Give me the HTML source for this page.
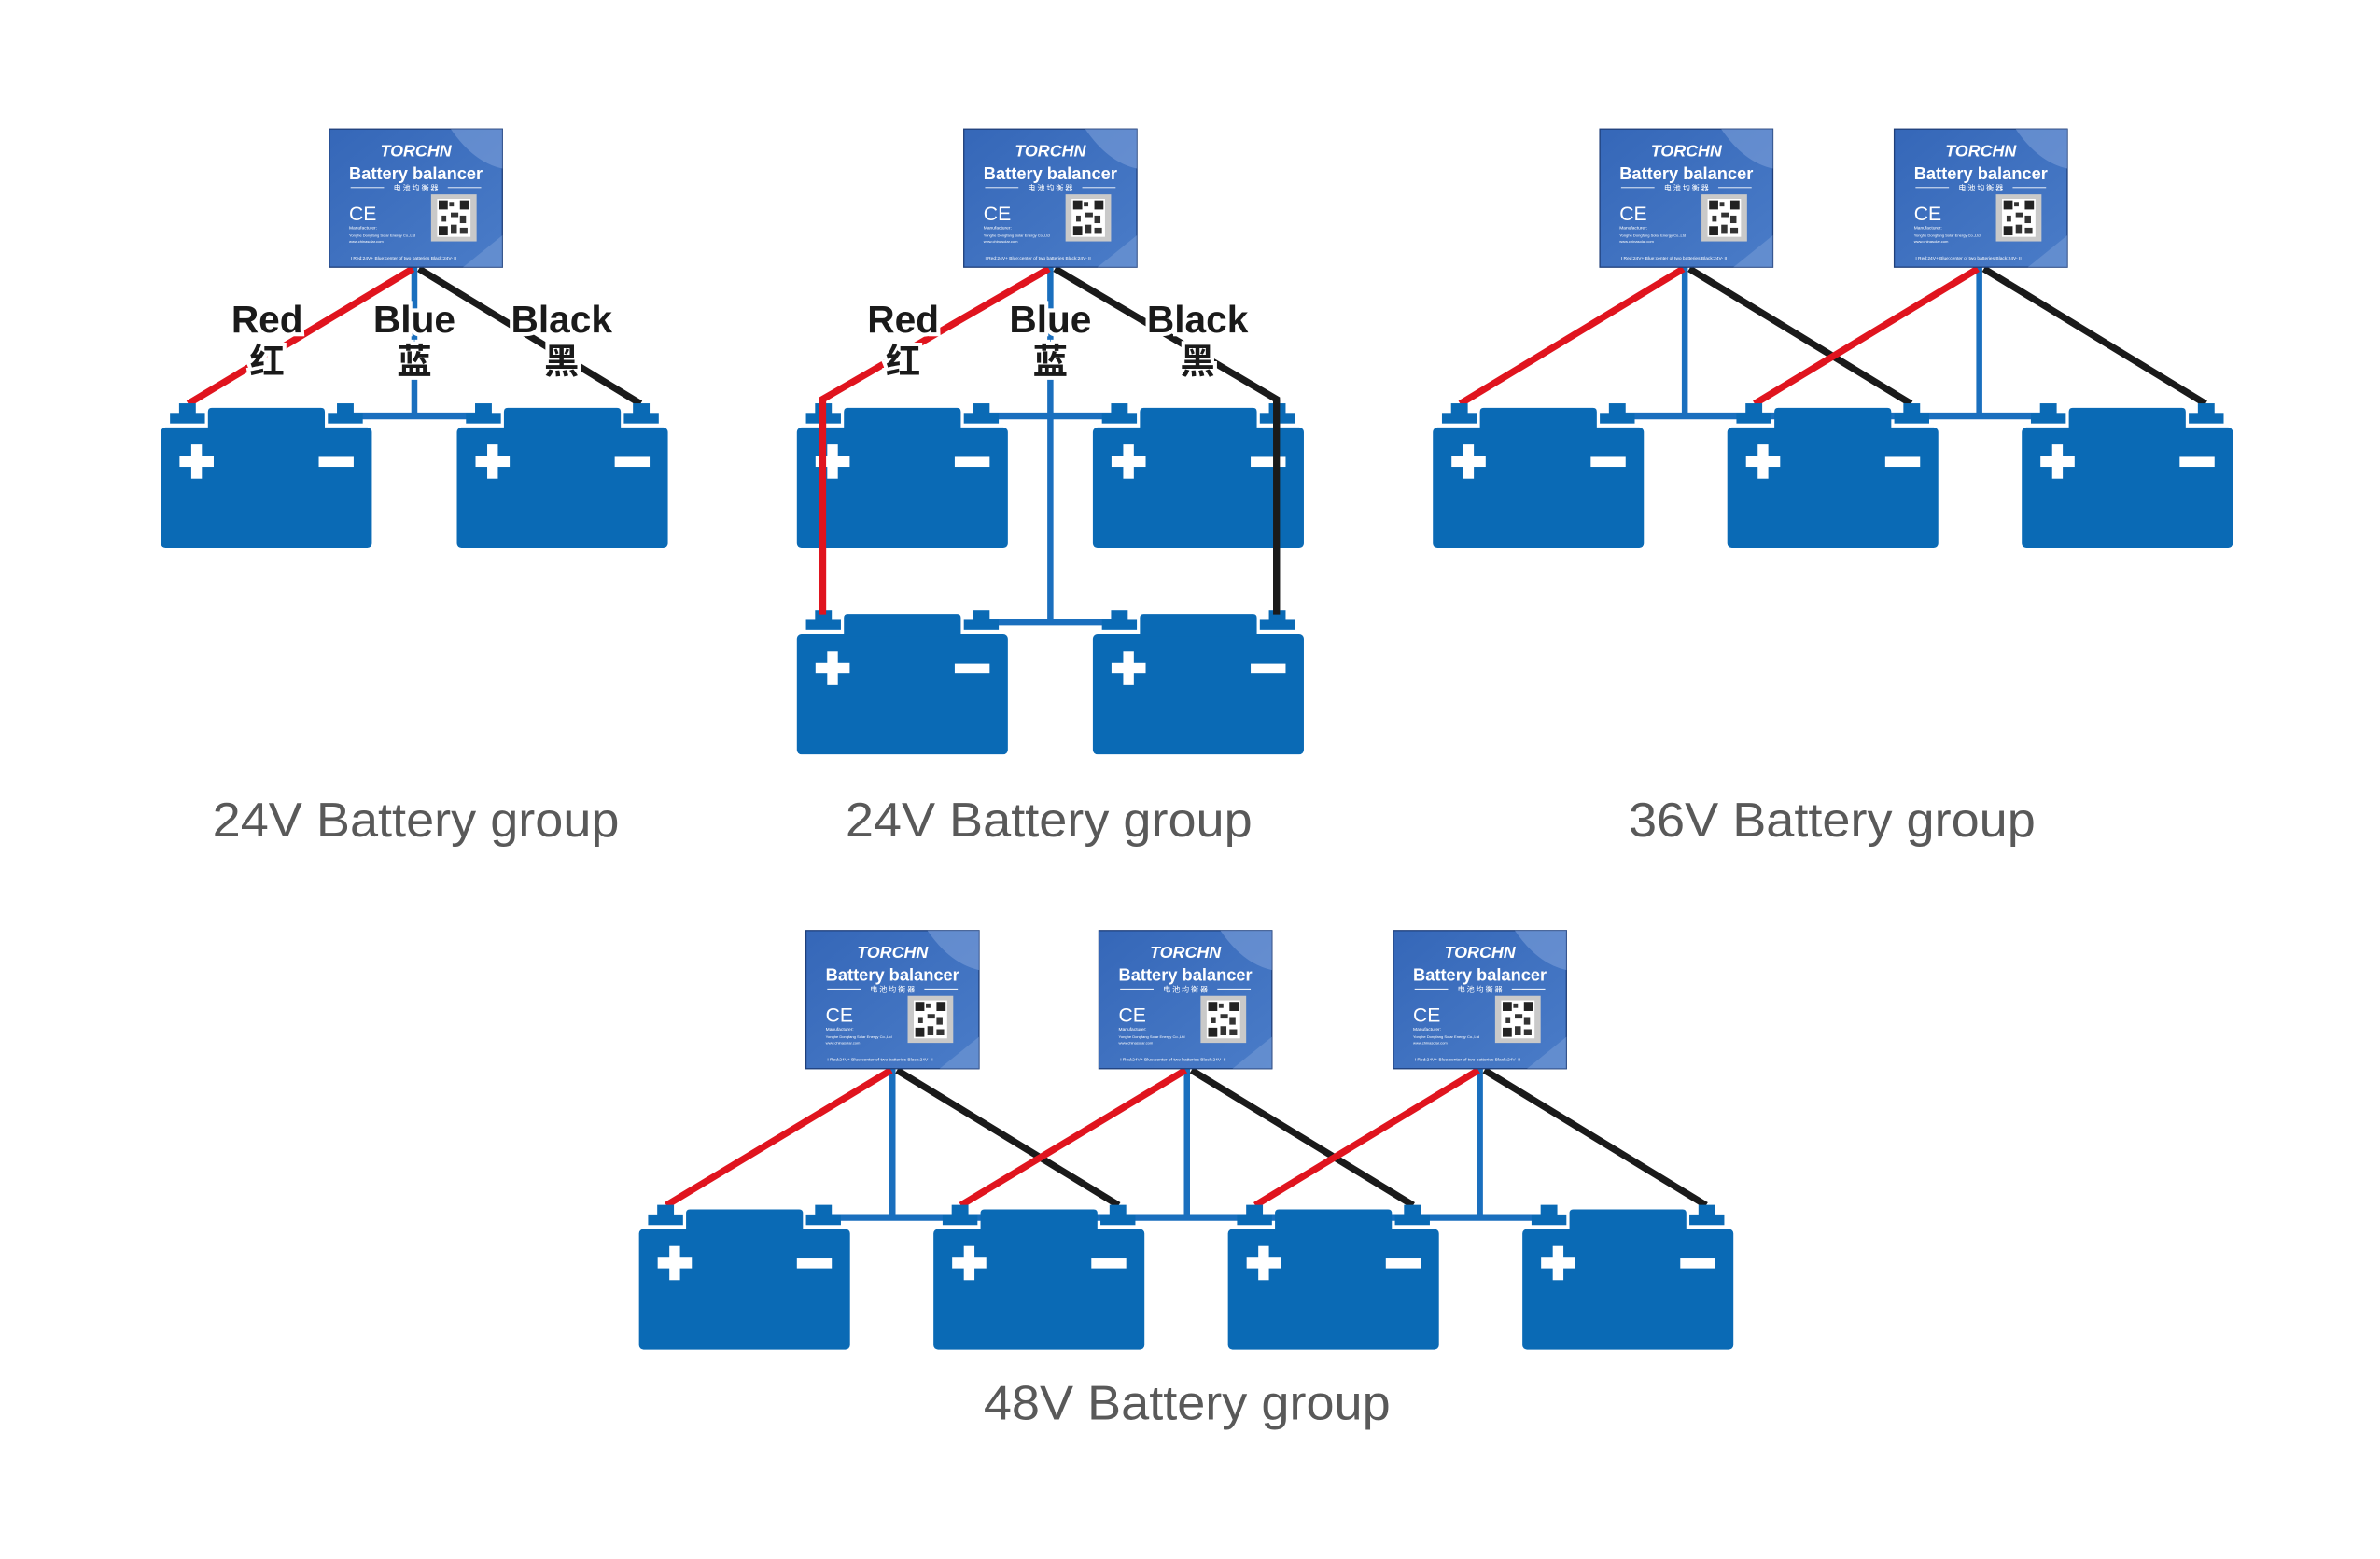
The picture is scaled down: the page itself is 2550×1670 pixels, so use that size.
<!DOCTYPE html>
<html><head><meta charset="utf-8"><style>
html,body{margin:0;padding:0;background:#fff;}
svg{display:block;}
.lbl{font-family:"Liberation Sans","Noto Sans CJK SC",sans-serif;font-weight:bold;font-size:25px;fill:#1a1a1a;text-anchor:middle;stroke:#fff;stroke-width:5px;paint-order:stroke;}
.cn{font-family:"Noto Sans CJK SC","WenQuanYi Zen Hei",sans-serif;font-weight:bold;font-size:23px;fill:#1a1a1a;text-anchor:middle;stroke:#fff;stroke-width:5px;paint-order:stroke;}
.cap{font-family:"Liberation Sans",sans-serif;font-size:32px;fill:#595959;text-anchor:middle;}
.bw{font-family:"Liberation Sans",sans-serif;fill:#fff;}
</style></head><body>
<svg width="2550" height="1670" viewBox="0 0 1568 1027" preserveAspectRatio="none" xmlns="http://www.w3.org/2000/svg">
<defs>
<linearGradient id="bg" x1="0" y1="0" x2="1" y2="1">
<stop offset="0" stop-color="#3567b8"/><stop offset="1" stop-color="#4a7cc8"/>
</linearGradient>
<g id="bat">
<rect x="0" y="16.6" width="139" height="79.4" rx="3" fill="#0a6ab5"/>
<path d="M31 18 V6.2 Q31 3.7 33.5 3.7 H105.5 Q108 3.7 108 6.2 V18 Z" fill="#0a6ab5"/>
<rect x="6" y="7" width="23" height="7" fill="#0a6ab5"/>
<rect x="12" y="0.7" width="11" height="7" fill="#0a6ab5"/>
<rect x="110" y="7" width="23" height="7" fill="#0a6ab5"/>
<rect x="116" y="0.7" width="11" height="7" fill="#0a6ab5"/>
<rect x="12.3" y="35.5" width="22.5" height="7" fill="#fff"/>
<rect x="20" y="27.8" width="7" height="22.5" fill="#fff"/>
<rect x="104" y="36" width="23" height="6.5" fill="#fff"/>
</g>
<g id="qr">
<rect x="67" y="43" width="30" height="31" fill="#c9c9c9"/>
<rect x="71" y="46" width="22" height="25" fill="#fff"/>
<rect x="72" y="47" width="6" height="6" fill="#222"/><rect x="86" y="47" width="6" height="6" fill="#222"/><rect x="72" y="64" width="6" height="6" fill="#222"/>
<rect x="79" y="48" width="3" height="3" fill="#333"/><rect x="80" y="55" width="5" height="3" fill="#333"/><rect x="74" y="57" width="3" height="4" fill="#333"/><rect x="86" y="57" width="4" height="5" fill="#333"/><rect x="80" y="63" width="4" height="6" fill="#333"/><rect x="86" y="65" width="5" height="4" fill="#333"/>
</g>
</defs>
<rect width="1568" height="1027" fill="#fff"/>

<!-- GROUP 1 -->
<g stroke-linecap="butt" fill="none">
<line x1="273" y1="176" x2="273" y2="276" stroke="#1a6fbe" stroke-width="4"/>
<line x1="227" y1="274" x2="320" y2="274" stroke="#1a6fbe" stroke-width="4.5"/>
<line x1="272" y1="177" x2="124" y2="266" stroke="#e0141e" stroke-width="4.5"/>
<line x1="276" y1="177" x2="422" y2="266" stroke="#1a1a1a" stroke-width="4.5"/>
</g>
<use href="#bat" x="106" y="265"/><use href="#bat" x="301" y="265"/>

<!-- GROUP 2 -->
<g fill="none">
<line x1="692" y1="176" x2="692" y2="412" stroke="#1a6fbe" stroke-width="4"/>
<line x1="646" y1="274" x2="740" y2="274" stroke="#1a6fbe" stroke-width="4.5"/>
<line x1="646" y1="410" x2="740" y2="410" stroke="#1a6fbe" stroke-width="4.5"/>
<polyline points="691,177 542,263 542,405" stroke="#e0141e" stroke-width="4.5"/>
<polyline points="695,177 841,263 841,405" stroke="#1a1a1a" stroke-width="4.5"/>
</g>
<use href="#bat" x="525" y="265"/><use href="#bat" x="720" y="265"/>
<use href="#bat" x="525" y="401"/><use href="#bat" x="720" y="401"/>
<g fill="none">
<line x1="542" y1="263" x2="542" y2="405" stroke="#e0141e" stroke-width="4.5"/>
<line x1="841" y1="263" x2="841" y2="405" stroke="#1a1a1a" stroke-width="4.5"/>
</g>

<!-- GROUP 3 -->
<g fill="none">
<line x1="1110" y1="176" x2="1110" y2="276" stroke="#1a6fbe" stroke-width="4"/>
<line x1="1304" y1="176" x2="1304" y2="276" stroke="#1a6fbe" stroke-width="4"/>
<line x1="1065" y1="274" x2="1352" y2="274" stroke="#1a6fbe" stroke-width="4.5"/>
<line x1="1109" y1="177" x2="962" y2="266" stroke="#e0141e" stroke-width="4.5"/>
<line x1="1113" y1="177" x2="1259" y2="266" stroke="#1a1a1a" stroke-width="4.5"/>
<line x1="1303" y1="177" x2="1156" y2="266" stroke="#e0141e" stroke-width="4.5"/>
<line x1="1307" y1="177" x2="1453" y2="266" stroke="#1a1a1a" stroke-width="4.5"/>
</g>
<use href="#bat" x="944" y="265"/><use href="#bat" x="1138" y="265"/><use href="#bat" x="1332" y="265"/>

<!-- GROUP 4 -->
<g fill="none">
<line x1="588" y1="704" x2="588" y2="804" stroke="#1a6fbe" stroke-width="4"/>
<line x1="782" y1="704" x2="782" y2="804" stroke="#1a6fbe" stroke-width="4"/>
<line x1="975" y1="704" x2="975" y2="804" stroke="#1a6fbe" stroke-width="4"/>
<line x1="542" y1="802" x2="1022" y2="802" stroke="#1a6fbe" stroke-width="4.5"/>
<line x1="587" y1="705" x2="439" y2="794" stroke="#e0141e" stroke-width="4.5"/>
<line x1="591" y1="705" x2="737" y2="794" stroke="#1a1a1a" stroke-width="4.5"/>
<line x1="781" y1="705" x2="633" y2="794" stroke="#e0141e" stroke-width="4.5"/>
<line x1="785" y1="705" x2="931" y2="794" stroke="#1a1a1a" stroke-width="4.5"/>
<line x1="974" y1="705" x2="827" y2="794" stroke="#e0141e" stroke-width="4.5"/>
<line x1="978" y1="705" x2="1124" y2="794" stroke="#1a1a1a" stroke-width="4.5"/>
</g>
<use href="#bat" x="421" y="793"/><use href="#bat" x="615" y="793"/><use href="#bat" x="809" y="793"/><use href="#bat" x="1003" y="793"/>

<!-- BALANCER BOXES -->
<g transform="translate(217,85)">
<rect x="0" y="0" width="114" height="91" fill="url(#bg)" stroke="#1f3f7a" stroke-width="0.8"/>
<path d="M80 0 H114 V26 Q95 22 80 0Z" fill="#7c9fd8" opacity="0.6"/>
<path d="M114 70 V91 H88 Z" fill="#7c9fd8" opacity="0.5"/>
<text class="bw" x="57" y="18" font-size="11" font-weight="bold" font-style="italic" text-anchor="middle">TORCHN</text>
<text class="bw" x="57" y="33" font-size="11.5" font-weight="bold" text-anchor="middle" textLength="88" lengthAdjust="spacingAndGlyphs">Battery balancer</text>
<line x1="14" y1="38.5" x2="36" y2="38.5" stroke="#fff" stroke-width="0.6"/><line x1="78" y1="38.5" x2="100" y2="38.5" stroke="#fff" stroke-width="0.6"/>
<text x="57" y="40.5" font-size="5" fill="#fff" text-anchor="middle" font-family="Noto Sans CJK SC,sans-serif">电 池 均 衡 器</text>
<text class="bw" x="13" y="60" font-size="13">CE</text>
<use href="#qr"/>
<text class="bw" x="13" y="66" font-size="3">Manufacturer:</text>
<text class="bw" x="13" y="71" font-size="2.5">Yonghe Dongfang Solar Energy Co.,Ltd</text>
<text class="bw" x="13" y="75" font-size="2.5">www.chinasolar.com</text>
<text class="bw" x="14" y="86" font-size="3">I  Red:24V+  Blue:center of two batteries  Black:24V-  II</text>
</g>
<g transform="translate(635,85)">
<rect x="0" y="0" width="114" height="91" fill="url(#bg)" stroke="#1f3f7a" stroke-width="0.8"/>
<path d="M80 0 H114 V26 Q95 22 80 0Z" fill="#7c9fd8" opacity="0.6"/>
<path d="M114 70 V91 H88 Z" fill="#7c9fd8" opacity="0.5"/>
<text class="bw" x="57" y="18" font-size="11" font-weight="bold" font-style="italic" text-anchor="middle">TORCHN</text>
<text class="bw" x="57" y="33" font-size="11.5" font-weight="bold" text-anchor="middle" textLength="88" lengthAdjust="spacingAndGlyphs">Battery balancer</text>
<line x1="14" y1="38.5" x2="36" y2="38.5" stroke="#fff" stroke-width="0.6"/><line x1="78" y1="38.5" x2="100" y2="38.5" stroke="#fff" stroke-width="0.6"/>
<text x="57" y="40.5" font-size="5" fill="#fff" text-anchor="middle" font-family="Noto Sans CJK SC,sans-serif">电 池 均 衡 器</text>
<text class="bw" x="13" y="60" font-size="13">CE</text>
<use href="#qr"/>
<text class="bw" x="13" y="66" font-size="3">Manufacturer:</text>
<text class="bw" x="13" y="71" font-size="2.5">Yonghe Dongfang Solar Energy Co.,Ltd</text>
<text class="bw" x="13" y="75" font-size="2.5">www.chinasolar.com</text>
<text class="bw" x="14" y="86" font-size="3">I  Red:24V+  Blue:center of two batteries  Black:24V-  II</text>
</g>
<g transform="translate(1054,85)">
<rect x="0" y="0" width="114" height="91" fill="url(#bg)" stroke="#1f3f7a" stroke-width="0.8"/>
<path d="M80 0 H114 V26 Q95 22 80 0Z" fill="#7c9fd8" opacity="0.6"/>
<path d="M114 70 V91 H88 Z" fill="#7c9fd8" opacity="0.5"/>
<text class="bw" x="57" y="18" font-size="11" font-weight="bold" font-style="italic" text-anchor="middle">TORCHN</text>
<text class="bw" x="57" y="33" font-size="11.5" font-weight="bold" text-anchor="middle" textLength="88" lengthAdjust="spacingAndGlyphs">Battery balancer</text>
<line x1="14" y1="38.5" x2="36" y2="38.5" stroke="#fff" stroke-width="0.6"/><line x1="78" y1="38.5" x2="100" y2="38.5" stroke="#fff" stroke-width="0.6"/>
<text x="57" y="40.5" font-size="5" fill="#fff" text-anchor="middle" font-family="Noto Sans CJK SC,sans-serif">电 池 均 衡 器</text>
<text class="bw" x="13" y="60" font-size="13">CE</text>
<use href="#qr"/>
<text class="bw" x="13" y="66" font-size="3">Manufacturer:</text>
<text class="bw" x="13" y="71" font-size="2.5">Yonghe Dongfang Solar Energy Co.,Ltd</text>
<text class="bw" x="13" y="75" font-size="2.5">www.chinasolar.com</text>
<text class="bw" x="14" y="86" font-size="3">I  Red:24V+  Blue:center of two batteries  Black:24V-  II</text>
</g>
<g transform="translate(1248,85)">
<rect x="0" y="0" width="114" height="91" fill="url(#bg)" stroke="#1f3f7a" stroke-width="0.8"/>
<path d="M80 0 H114 V26 Q95 22 80 0Z" fill="#7c9fd8" opacity="0.6"/>
<path d="M114 70 V91 H88 Z" fill="#7c9fd8" opacity="0.5"/>
<text class="bw" x="57" y="18" font-size="11" font-weight="bold" font-style="italic" text-anchor="middle">TORCHN</text>
<text class="bw" x="57" y="33" font-size="11.5" font-weight="bold" text-anchor="middle" textLength="88" lengthAdjust="spacingAndGlyphs">Battery balancer</text>
<line x1="14" y1="38.5" x2="36" y2="38.5" stroke="#fff" stroke-width="0.6"/><line x1="78" y1="38.5" x2="100" y2="38.5" stroke="#fff" stroke-width="0.6"/>
<text x="57" y="40.5" font-size="5" fill="#fff" text-anchor="middle" font-family="Noto Sans CJK SC,sans-serif">电 池 均 衡 器</text>
<text class="bw" x="13" y="60" font-size="13">CE</text>
<use href="#qr"/>
<text class="bw" x="13" y="66" font-size="3">Manufacturer:</text>
<text class="bw" x="13" y="71" font-size="2.5">Yonghe Dongfang Solar Energy Co.,Ltd</text>
<text class="bw" x="13" y="75" font-size="2.5">www.chinasolar.com</text>
<text class="bw" x="14" y="86" font-size="3">I  Red:24V+  Blue:center of two batteries  Black:24V-  II</text>
</g>
<g transform="translate(531,613)">
<rect x="0" y="0" width="114" height="91" fill="url(#bg)" stroke="#1f3f7a" stroke-width="0.8"/>
<path d="M80 0 H114 V26 Q95 22 80 0Z" fill="#7c9fd8" opacity="0.6"/>
<path d="M114 70 V91 H88 Z" fill="#7c9fd8" opacity="0.5"/>
<text class="bw" x="57" y="18" font-size="11" font-weight="bold" font-style="italic" text-anchor="middle">TORCHN</text>
<text class="bw" x="57" y="33" font-size="11.5" font-weight="bold" text-anchor="middle" textLength="88" lengthAdjust="spacingAndGlyphs">Battery balancer</text>
<line x1="14" y1="38.5" x2="36" y2="38.5" stroke="#fff" stroke-width="0.6"/><line x1="78" y1="38.5" x2="100" y2="38.5" stroke="#fff" stroke-width="0.6"/>
<text x="57" y="40.5" font-size="5" fill="#fff" text-anchor="middle" font-family="Noto Sans CJK SC,sans-serif">电 池 均 衡 器</text>
<text class="bw" x="13" y="60" font-size="13">CE</text>
<use href="#qr"/>
<text class="bw" x="13" y="66" font-size="3">Manufacturer:</text>
<text class="bw" x="13" y="71" font-size="2.5">Yonghe Dongfang Solar Energy Co.,Ltd</text>
<text class="bw" x="13" y="75" font-size="2.5">www.chinasolar.com</text>
<text class="bw" x="14" y="86" font-size="3">I  Red:24V+  Blue:center of two batteries  Black:24V-  II</text>
</g>
<g transform="translate(724,613)">
<rect x="0" y="0" width="114" height="91" fill="url(#bg)" stroke="#1f3f7a" stroke-width="0.8"/>
<path d="M80 0 H114 V26 Q95 22 80 0Z" fill="#7c9fd8" opacity="0.6"/>
<path d="M114 70 V91 H88 Z" fill="#7c9fd8" opacity="0.5"/>
<text class="bw" x="57" y="18" font-size="11" font-weight="bold" font-style="italic" text-anchor="middle">TORCHN</text>
<text class="bw" x="57" y="33" font-size="11.5" font-weight="bold" text-anchor="middle" textLength="88" lengthAdjust="spacingAndGlyphs">Battery balancer</text>
<line x1="14" y1="38.5" x2="36" y2="38.5" stroke="#fff" stroke-width="0.6"/><line x1="78" y1="38.5" x2="100" y2="38.5" stroke="#fff" stroke-width="0.6"/>
<text x="57" y="40.5" font-size="5" fill="#fff" text-anchor="middle" font-family="Noto Sans CJK SC,sans-serif">电 池 均 衡 器</text>
<text class="bw" x="13" y="60" font-size="13">CE</text>
<use href="#qr"/>
<text class="bw" x="13" y="66" font-size="3">Manufacturer:</text>
<text class="bw" x="13" y="71" font-size="2.5">Yonghe Dongfang Solar Energy Co.,Ltd</text>
<text class="bw" x="13" y="75" font-size="2.5">www.chinasolar.com</text>
<text class="bw" x="14" y="86" font-size="3">I  Red:24V+  Blue:center of two batteries  Black:24V-  II</text>
</g>
<g transform="translate(918,613)">
<rect x="0" y="0" width="114" height="91" fill="url(#bg)" stroke="#1f3f7a" stroke-width="0.8"/>
<path d="M80 0 H114 V26 Q95 22 80 0Z" fill="#7c9fd8" opacity="0.6"/>
<path d="M114 70 V91 H88 Z" fill="#7c9fd8" opacity="0.5"/>
<text class="bw" x="57" y="18" font-size="11" font-weight="bold" font-style="italic" text-anchor="middle">TORCHN</text>
<text class="bw" x="57" y="33" font-size="11.5" font-weight="bold" text-anchor="middle" textLength="88" lengthAdjust="spacingAndGlyphs">Battery balancer</text>
<line x1="14" y1="38.5" x2="36" y2="38.5" stroke="#fff" stroke-width="0.6"/><line x1="78" y1="38.5" x2="100" y2="38.5" stroke="#fff" stroke-width="0.6"/>
<text x="57" y="40.5" font-size="5" fill="#fff" text-anchor="middle" font-family="Noto Sans CJK SC,sans-serif">电 池 均 衡 器</text>
<text class="bw" x="13" y="60" font-size="13">CE</text>
<use href="#qr"/>
<text class="bw" x="13" y="66" font-size="3">Manufacturer:</text>
<text class="bw" x="13" y="71" font-size="2.5">Yonghe Dongfang Solar Energy Co.,Ltd</text>
<text class="bw" x="13" y="75" font-size="2.5">www.chinasolar.com</text>
<text class="bw" x="14" y="86" font-size="3">I  Red:24V+  Blue:center of two batteries  Black:24V-  II</text>
</g>

<!-- LABELS -->
<text class="lbl" x="176" y="219">Red</text><text class="cn" x="176" y="246">红</text>
<text class="lbl" x="273" y="219">Blue</text><text class="cn" x="273" y="246">蓝</text>
<text class="lbl" x="370" y="219">Black</text><text class="cn" x="370" y="246">黑</text>
<text class="lbl" x="595" y="219">Red</text><text class="cn" x="595" y="246">红</text>
<text class="lbl" x="692" y="219">Blue</text><text class="cn" x="692" y="246">蓝</text>
<text class="lbl" x="789" y="219">Black</text><text class="cn" x="789" y="246">黑</text>

<text class="cap" x="274" y="551" textLength="268" lengthAdjust="spacingAndGlyphs">24V Battery group</text>
<text class="cap" x="691" y="551" textLength="268" lengthAdjust="spacingAndGlyphs">24V Battery group</text>
<text class="cap" x="1207" y="551" textLength="268" lengthAdjust="spacingAndGlyphs">36V Battery group</text>
<text class="cap" x="782" y="935" textLength="268" lengthAdjust="spacingAndGlyphs">48V Battery group</text>
</svg>
</body></html>
